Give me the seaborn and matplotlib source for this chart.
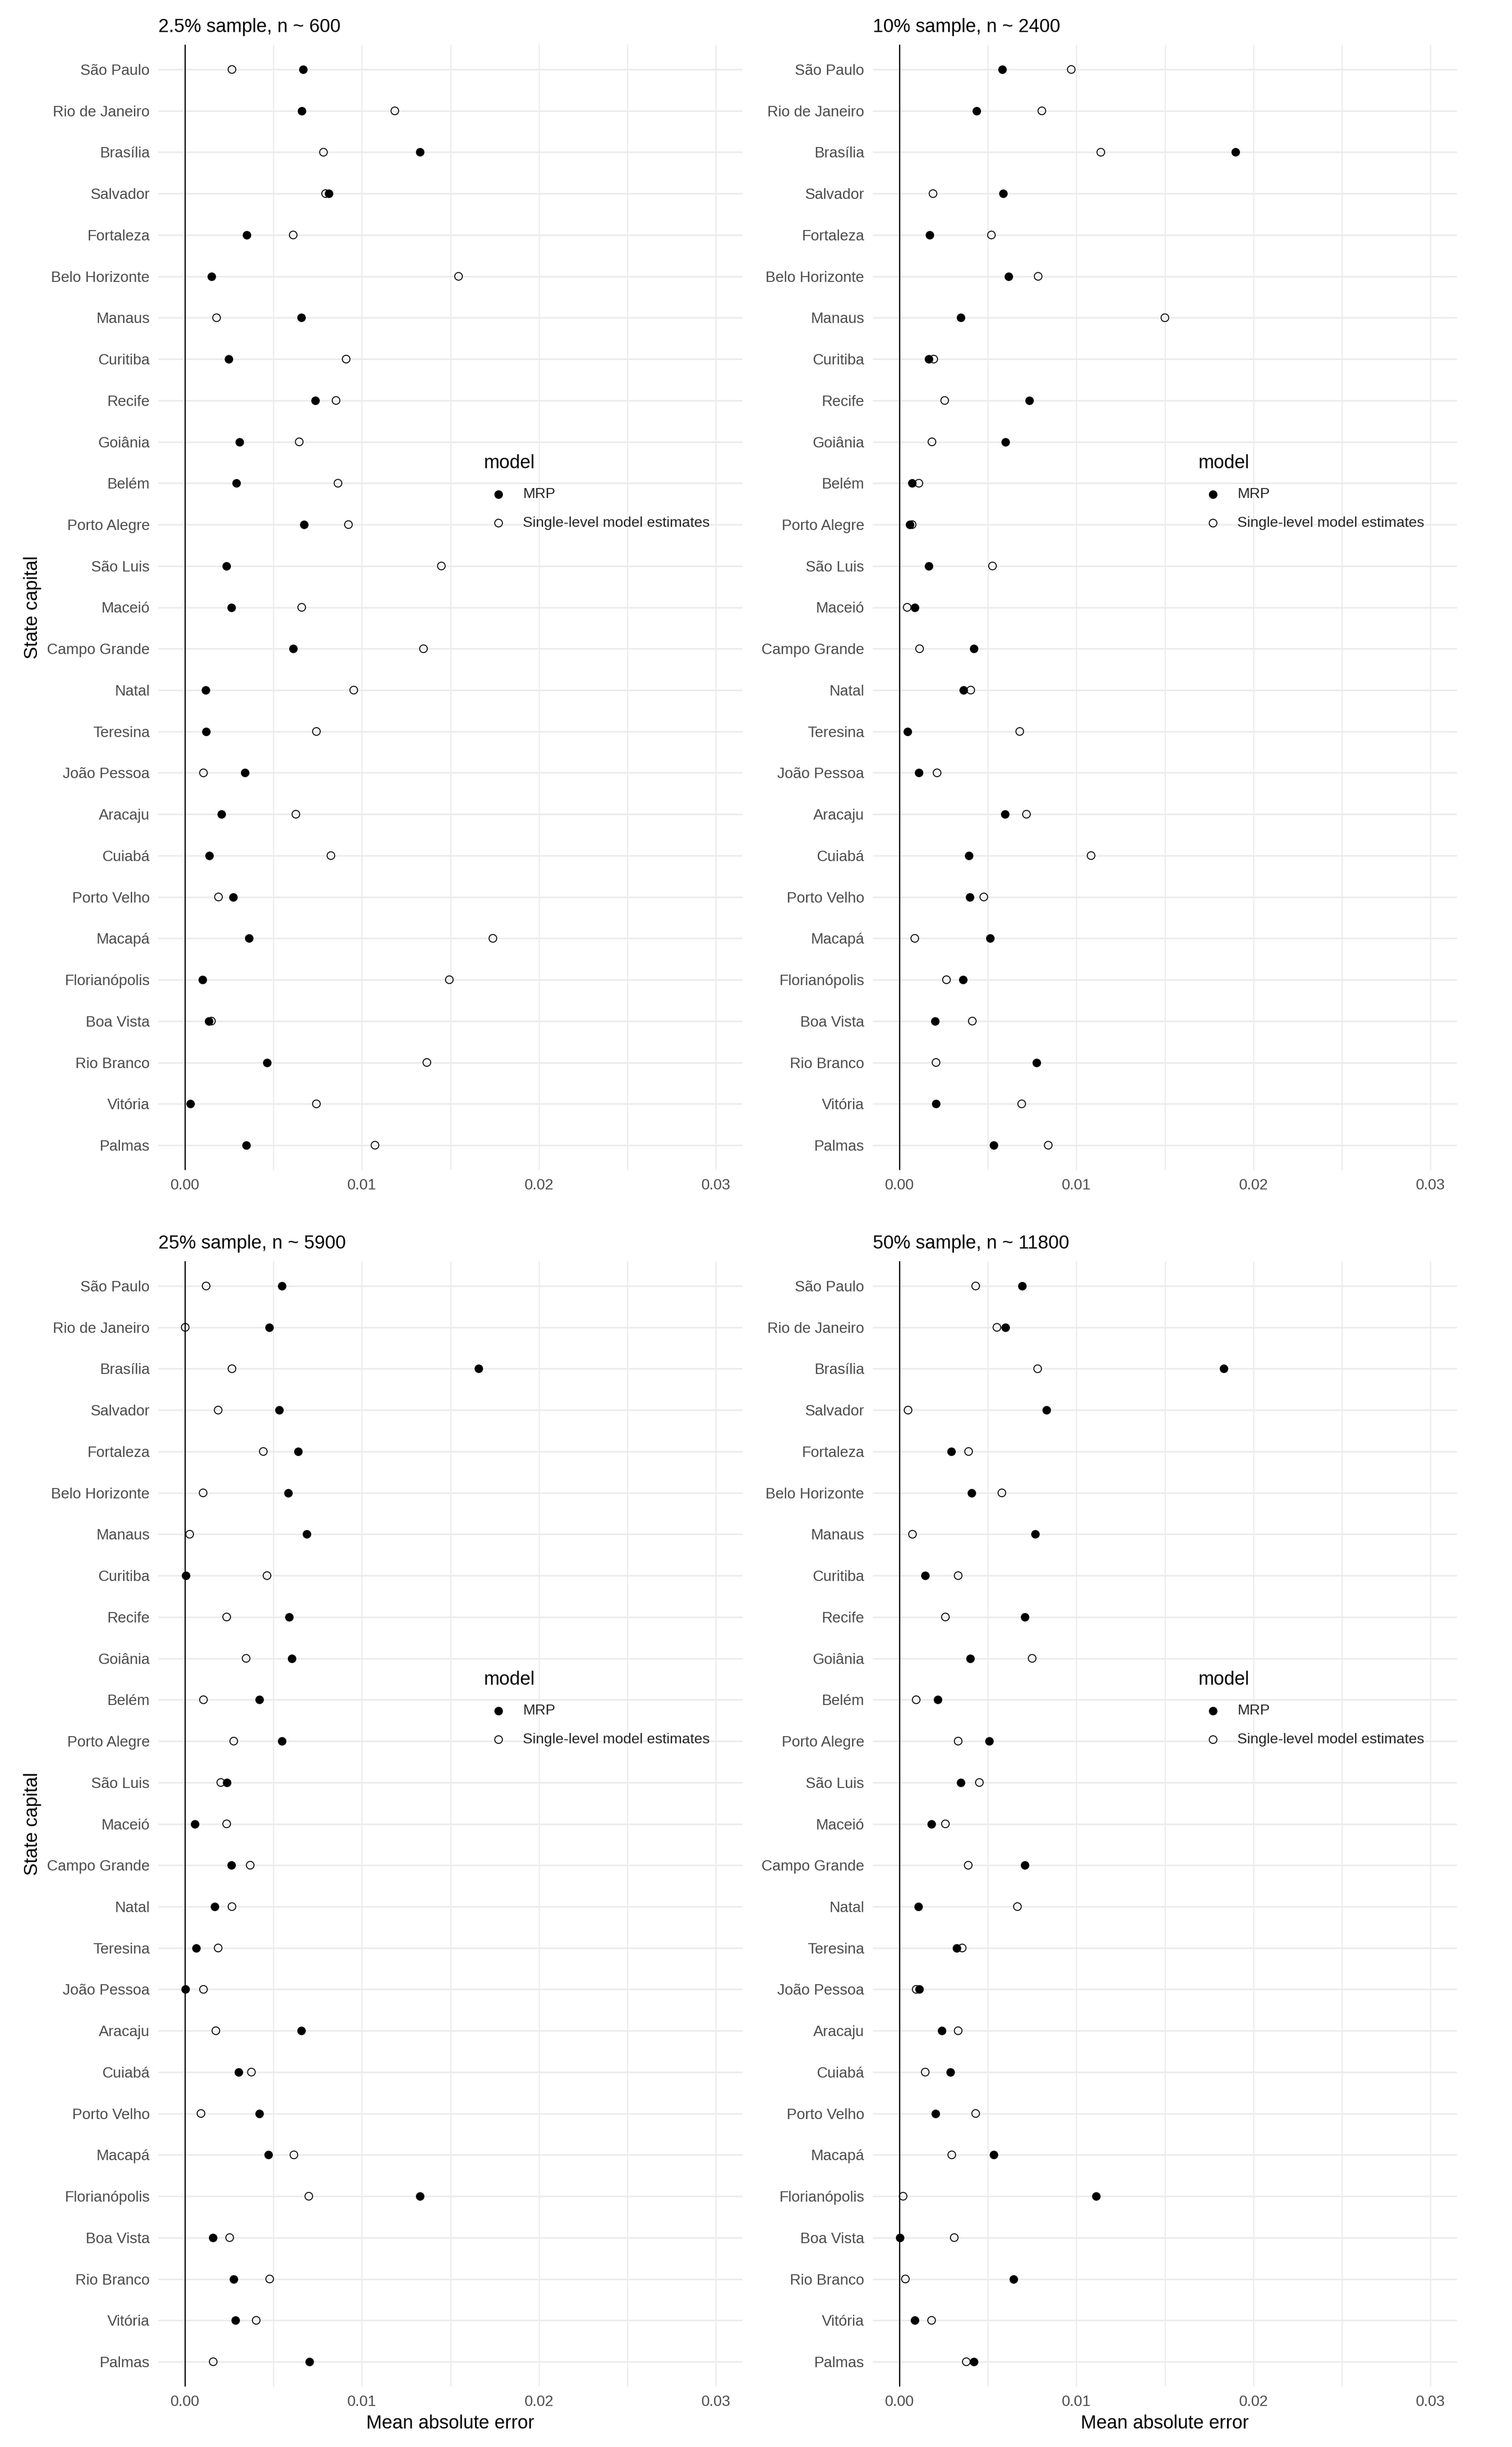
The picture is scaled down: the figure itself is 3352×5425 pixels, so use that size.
import matplotlib
matplotlib.use("Agg")
import matplotlib.pyplot as plt
import seaborn as sns
import pandas as pd

# ---------------- data ----------------
cities = ["São Paulo", "Rio de Janeiro", "Brasília", "Salvador", "Fortaleza",
          "Belo Horizonte", "Manaus", "Curitiba", "Recife", "Goiânia", "Belém",
          "Porto Alegre", "São Luis", "Maceió", "Campo Grande", "Natal",
          "Teresina", "João Pessoa", "Aracaju", "Cuiabá", "Porto Velho",
          "Macapá", "Florianópolis", "Boa Vista", "Rio Branco", "Vitória", "Palmas"]

panel_titles = ["2.5% sample, n ~ 600", "10% sample, n ~ 2400",
                "25% sample, n ~ 5900", "50% sample, n ~ 11800"]

model_names = ["MRP", "Single-level model estimates"]

mrp_2_5 = [0.00667, 0.0066, 0.01329, 0.00812, 0.0035, 0.0015, 0.00658, 0.00247, 0.00736,
           0.00308, 0.00291, 0.00673, 0.00236, 0.00262, 0.00612, 0.00118, 0.0012, 0.0034,
           0.00207, 0.00137, 0.00274, 0.00363, 0.00101, 0.00135, 0.00464, 0.0003, 0.00346]
sl_2_5 = [0.00266, 0.01186, 0.00783, 0.00795, 0.00612, 0.01546, 0.00179, 0.00911, 0.00854,
          0.00646, 0.00865, 0.00924, 0.01449, 0.0066, 0.01348, 0.00954, 0.00743, 0.00105,
          0.00627, 0.00825, 0.0019, 0.0174, 0.01494, 0.0015, 0.01367, 0.00743, 0.01074]

mrp_10 = [0.00581, 0.00437, 0.01899, 0.00587, 0.00171, 0.00617, 0.00348, 0.00165, 0.00733,
          0.00598, 0.00072, 0.00059, 0.00165, 0.00087, 0.00422, 0.00363, 0.00046, 0.0011,
          0.00596, 0.00393, 0.00399, 0.00513, 0.00359, 0.00201, 0.00775, 0.00207, 0.00532]
sl_10 = [0.00971, 0.00805, 0.01138, 0.0019, 0.0052, 0.00784, 0.015, 0.00194, 0.00256,
         0.00184, 0.0011, 0.00072, 0.00526, 0.00044, 0.00114, 0.00403, 0.0068, 0.00213,
         0.00718, 0.01083, 0.00477, 0.00087, 0.00266, 0.00412, 0.00207, 0.00691, 0.00841]

mrp_25 = [0.00549, 0.00477, 0.01658, 0.00534, 0.00639, 0.00584, 0.00688, 0.00006, 0.00589,
          0.00605, 0.00422, 0.00549, 0.00238, 0.00057, 0.00262, 0.00169, 0.00063, 0.00002,
          0.00658, 0.00304, 0.00422, 0.00473, 0.01327, 0.00158, 0.00276, 0.00285, 0.00703]
sl_25 = [0.0012, 0.00002, 0.00266, 0.00188, 0.00443, 0.00103, 0.00027, 0.00464, 0.00236,
         0.00346, 0.00105, 0.00276, 0.00203, 0.00236, 0.00369, 0.00266, 0.00188, 0.00105,
         0.00175, 0.00376, 0.00091, 0.00616, 0.007, 0.00253, 0.00479, 0.00403, 0.0016]

mrp_50 = [0.00693, 0.00598, 0.01833, 0.00832, 0.00294, 0.00408, 0.00767, 0.00146, 0.0071,
          0.00401, 0.00218, 0.00507, 0.00346, 0.0018, 0.00708, 0.00108, 0.00325, 0.00112,
          0.00241, 0.00289, 0.00205, 0.00532, 0.01111, 0.00004, 0.00644, 0.00087, 0.00422]
sl_50 = [0.00431, 0.00551, 0.00781, 0.00049, 0.00391, 0.00579, 0.00074, 0.00332, 0.0026,
         0.0075, 0.00095, 0.00332, 0.00452, 0.0026, 0.00389, 0.00667, 0.00355, 0.00095,
         0.00332, 0.00146, 0.00431, 0.00296, 0.00021, 0.0031, 0.00034, 0.00182, 0.00378]

x_ticks = [0.0, 0.01, 0.02, 0.03]
x_tick_labels = ["0.00", "0.01", "0.02", "0.03"]
x_minor = [0.005, 0.015, 0.025]

panels = [(mrp_2_5, sl_2_5), (mrp_10, sl_10), (mrp_25, sl_25), (mrp_50, sl_50)]

# ---------------- style ----------------
sns.set_style("white")
plt.rcParams['font.family'] = ['Liberation Sans', 'DejaVu Sans']

W, H = 3352, 5425
DPI = 100
fig = plt.figure(figsize=(W / DPI, H / DPI), dpi=DPI)

lefts = [351, 1935]
tops = [99, 2796]
AW, AH = 1295, 2495
GRID = "#EBEBEB"
TICKCOL = "#4D4D4D"

for i, (mrp, sl) in enumerate(panels):
    r, c = divmod(i, 2)
    ax = fig.add_axes([lefts[c] / W, 1 - (tops[r] + AH) / H, AW / W, AH / H])

    df = pd.DataFrame({
        "city": cities + cities,
        "mae": mrp + sl,
        "model": [model_names[0]] * len(cities) + [model_names[1]] * len(cities),
    })
    d_mrp = df[df["model"] == model_names[0]]
    d_sl = df[df["model"] == model_names[1]]

    ax.set_axisbelow(True)
    ax.axvline(0, color="black", lw=1.9, zorder=2)

    sns.scatterplot(data=d_mrp, x="mae", y="city", ax=ax, color="black",
                    s=185, linewidth=0, marker="o", label=model_names[0], zorder=3)
    sns.scatterplot(data=d_sl, x="mae", y="city", ax=ax, color="black",
                    facecolor="none", edgecolor="black", linewidth=1.5, s=150,
                    marker="o", label=model_names[1], zorder=4)

    ax.set_xlim(-0.0015, 0.0315)
    ax.set_ylim(len(cities) - 0.4, -0.6)
    ax.set_xticks(x_ticks)
    ax.set_xticklabels(x_tick_labels)
    ax.set_xticks(x_minor, minor=True)
    ax.set_yticks(range(len(cities)))
    ax.set_yticklabels(cities)

    ax.xaxis.grid(True, which="both", color=GRID, lw=1.8)
    ax.yaxis.grid(True, which="major", color=GRID, lw=2.5)
    for s in ax.spines.values():
        s.set_visible(False)
    ax.tick_params(axis="both", which="both", length=0, pad=13.7,
                   labelsize=24, labelcolor=TICKCOL)

    # titles / labels
    ax.text(0, 1 + 28 / AH, panel_titles[i], transform=ax.transAxes,
            ha="left", va="baseline", fontsize=30, color="black")

    if r == 1:
        ax.set_xlabel("Mean absolute error", fontsize=30, color="black")
        ax.xaxis.set_label_coords(0.5, -93 / AH)
        ax.xaxis.label.set_va("baseline")
    else:
        ax.set_xlabel("")
    if c == 0:
        ax.set_ylabel("State capital", fontsize=30, color="black")
        ax.yaxis.set_label_coords(-0.2, 0.5)
    else:
        ax.set_ylabel("")

    leg = ax.legend(title="model", loc="upper left",
                    bbox_to_anchor=(721 / AW, 1 - 908 / AH),
                    frameon=False, fontsize=23.4, title_fontsize=30,
                    alignment="left", handlelength=2.05, handletextpad=0.63,
                    labelspacing=1.05, borderpad=0, borderaxespad=0)
    leg.get_title().set_color("black")

fig.savefig("out.png", dpi=DPI, facecolor="white")
